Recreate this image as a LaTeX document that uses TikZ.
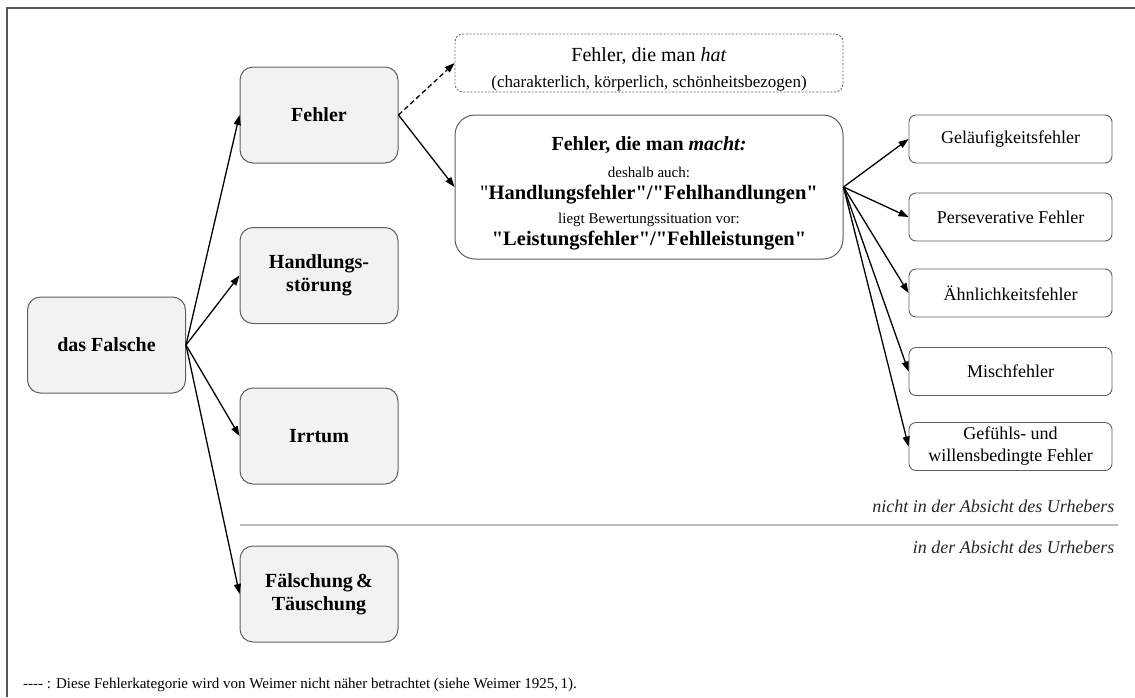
\documentclass[tikz,border=0pt]{standalone}
\usepackage{fontspec}
\setmainfont{Liberation Serif}[Ligatures=TeXOff]
\usetikzlibrary{arrows.meta}
\definecolor{boxfill}{HTML}{F2F2F2}
\definecolor{boxline}{HTML}{5F5F5F}
\definecolor{frameline}{HTML}{555555}
\definecolor{sepgray}{HTML}{BDBDBD}
\begin{document}
\begin{tikzpicture}[x=1pt,y=-1pt,
  bigbox/.style={draw=boxline, fill=boxfill, rounded corners=13pt, minimum width=158pt, minimum height=96pt, align=center, inner sep=0pt, line width=1pt, font=\fontsize{20}{23}\selectfont\bfseries},
  rbox/.style={draw=boxline, fill=white, rounded corners=7pt, minimum width=203pt, minimum height=48pt, align=center, inner sep=0pt, line width=0.9pt, font=\fontsize{18}{22}\selectfont},
  arr/.style={-{Triangle[length=10pt,width=7pt]}, line width=1.3pt},
  lbl/.style={anchor=east, font=\fontsize{18}{20}\selectfont\itshape, text=black!85},
]
\useasboundingbox (0,0) rectangle (1135,697);
\draw[frameline, line width=1.5pt] (7,697) -- (7,8) -- (1135,8);

\node[bigbox] (falsche) at (106.5,345) {das Falsche};
\node[bigbox] (fehler) at (319,115) {Fehler};
\node[bigbox] (hstoer) at (319,275.5) {Handlungs-\\störung};
\node[bigbox] (irrtum) at (319,436) {Irrtum};
\node[bigbox] (faelsch) at (319,594) {Fälschung\,\&\\Täuschung};

\node[draw=black!60, line width=0.9pt, dash pattern=on 2pt off 1.6pt, rounded corners=8pt, minimum width=388pt, minimum height=58pt, inner sep=0pt, align=center, font=\fontsize{17}{26}\selectfont] (hat) at (649,63)
  {{\fontsize{20}{22}\selectfont\rule{0pt}{27pt}Fehler, die man \textit{hat}}\\(charakterlich, körperlich, schönheitsbezogen)};

\node[draw=boxline, fill=white, rounded corners=20pt, minimum width=388pt, minimum height=144pt, inner sep=0pt, line width=1pt, align=center, font=\fontsize{15}{23}\selectfont] (macht) at (649,187)
  {{\fontsize{20}{22}\selectfont\bfseries\rule{0pt}{26pt}Fehler, die man \textit{macht:}}\\[4pt]
   deshalb auch:\\[-1pt]
   {\fontsize{20.5}{22}\selectfont "\textbf{Handlungsfehler"/"Fehlhandlungen"}}\\[1pt]
   liegt Bewertungssituation vor:\\[-1pt]
   {\fontsize{20.5}{22}\selectfont\bfseries "Leistungsfehler"/"Fehlleistungen"}};

\node[rbox] (r1) at (1010.5,139) {Geläufigkeitsfehler};
\node[rbox] (r2) at (1010.5,217) {Perseverative Fehler};
\node[rbox] (r3) at (1010.5,293) {Ähnlichkeitsfehler};
\node[rbox] (r4) at (1010.5,371.5) {Mischfehler};
\node[rbox] (r5) at (1010.5,446.5) {Gefühls- und\\willensbedingte Fehler};

\draw[arr] (falsche.east) -- (fehler.west);
\draw[arr] (falsche.east) -- (hstoer.west);
\draw[arr] (falsche.east) -- (irrtum.west);
\draw[arr] (falsche.east) -- (faelsch.west);
\draw[arr, dash pattern=on 5pt off 3pt] (fehler.east) -- (hat.west);
\draw[arr] (fehler.east) -- (macht.west);
\foreach \r in {r1,r2,r3,r4,r5} \draw[arr] (macht.east) -- (\r.west);

\coordinate (s1) at (240,525);
\coordinate (s2) at (1118,525);
\draw[sepgray, line width=2pt] (s1) -- (s2);
\node[lbl] (l1) at (1118,506) {nicht in der Absicht des Urhebers};
\node[lbl] (l2) at (1118,547) {in der Absicht des Urhebers};

\node[anchor=west, inner sep=0pt, font=\fontsize{15}{17}\selectfont] (fn) at (23,685) {---- : Diese Fehlerkategorie wird von Weimer nicht näher betrachtet (siehe Weimer 1925,\,1).};
\end{tikzpicture}
\end{document}
